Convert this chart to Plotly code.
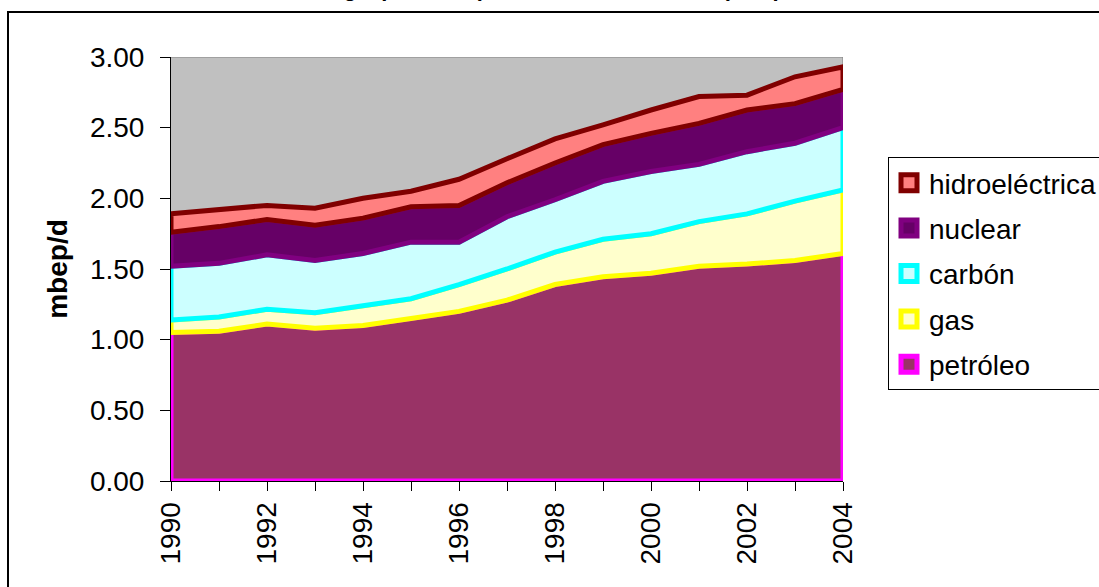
import plotly.graph_objects as go
import numpy as np

# ---------------- data ----------------
years = list(range(1990, 2005))
x_tick_labels = [str(y) if y % 2 == 0 else "" for y in years]
y_tick_values = [0.0, 0.5, 1.0, 1.5, 2.0, 2.5, 3.0]

series_names = ["petróleo", "gas", "carbón", "nuclear", "hidroeléctrica"]
petroleo = [1.05, 1.06, 1.11, 1.08, 1.10, 1.15, 1.20, 1.28, 1.39, 1.445, 1.47, 1.52, 1.535, 1.56, 1.61]
gas = [0.09, 0.10, 0.105, 0.11, 0.14, 0.14, 0.19, 0.22, 0.23, 0.265, 0.28, 0.315, 0.355, 0.42, 0.45]
carbon = [0.38, 0.38, 0.385, 0.37, 0.37, 0.40, 0.30, 0.37, 0.37, 0.41, 0.44, 0.405, 0.44, 0.41, 0.44]
nuclear = [0.24, 0.26, 0.25, 0.25, 0.25, 0.25, 0.26, 0.24, 0.26, 0.26, 0.27, 0.29, 0.295, 0.28, 0.27]
hidro = [0.13, 0.12, 0.10, 0.12, 0.14, 0.11, 0.185, 0.17, 0.17, 0.14, 0.165, 0.19, 0.105, 0.19, 0.16]

# ---------------- styles ----------------
fill_colors = ["#993366", "#FFFFCC", "#CCFFFF", "#660066", "#FF8080"]
line_colors = ["#FF00FF", "#FFFF00", "#00FFFF", "#800080", "#800000"]
FONT = "Liberation Sans, Arial, sans-serif"

fig = go.Figure()

values = [petroleo, gas, carbon, nuclear, hidro]
bottom = np.zeros(len(years))
for name, vals, fc, lc in zip(series_names, values, fill_colors, line_colors):
    top = bottom + np.array(vals)
    xs = years + years[::-1] + [years[0]]
    ys = list(np.round(top, 4)) + list(np.round(bottom, 4))[::-1] + [round(float(top[0]), 4)]
    fig.add_trace(go.Scatter(
        x=xs, y=ys, mode="lines", fill="toself", fillcolor=fc,
        line=dict(color=lc, width=5), name=name, showlegend=False,
        hoverinfo="skip",
    ))
    bottom = top

# legend entries (top to bottom as in the reference)
for name, fc, lc in list(zip(series_names, fill_colors, line_colors))[::-1]:
    fig.add_trace(go.Scatter(
        x=[None], y=[None], mode="markers", name=name, legendgroup=name,
        marker=dict(symbol="square", size=20, color=fc, line=dict(color=lc, width=5)),
    ))

# plot-area geometry in pixels
L, R, T, B = 171, 843, 57, 481
W, H = R - L, B - T

def px_x(p):
    return (p - L) / W

def px_y(p):
    return (B - p) / H

fig.update_layout(
    width=1099, height=587,
    margin=dict(l=L, r=1099 - R, t=T, b=587 - B, autoexpand=False),
    paper_bgcolor="white",
    plot_bgcolor="#C0C0C0",
    font=dict(family=FONT, size=28, color="black"),
    title=dict(
        text="<b>Consumo de energía primaria (millones de barriles/día), España, 1990-2004</b>",
        font=dict(family=FONT, size=22, color="black"),
        x=0.5, xref="container", xanchor="center",
        y=1.0, yref="container", yanchor="bottom", pad=dict(b=4),
    ),
    xaxis=dict(
        range=[1990, 2004], tickmode="array", tickvals=years, ticktext=x_tick_labels,
        tickangle=-90, ticks="outside", ticklen=9, tickwidth=1, tickcolor="black",
        showline=True, linecolor="black", linewidth=1, showgrid=False, zeroline=False,
        tickfont=dict(family=FONT, size=28), ticklabelstandoff=0,
    ),
    yaxis=dict(
        range=[0, 3], tickmode="array", tickvals=y_tick_values, tickformat=".2f",
        ticks="outside", ticklen=10, tickwidth=1, tickcolor="black",
        showline=True, linecolor="black", linewidth=1, showgrid=False, zeroline=False,
        tickfont=dict(family=FONT, size=28), ticklabelstandoff=10,
        title=dict(text="<b>mbep/d</b>", font=dict(family=FONT, size=28), standoff=14),
    ),
    legend=dict(
        x=px_x(888), y=px_y(157), xanchor="left", yanchor="top",
        bgcolor="white", bordercolor="black", borderwidth=1,
        font=dict(family=FONT, size=28), tracegroupgap=6, traceorder="grouped",
    ),
    shapes=[
        dict(type="rect", xref="paper", yref="paper",
             x0=px_x(8), x1=px_x(1110), y0=px_y(600), y1=px_y(12),
             line=dict(color="black", width=2), layer="below"),
        dict(type="path", xref="x", yref="y", path="M 1990,3 L 2004,3 L 2004,0",
             line=dict(color="#808080", width=1), layer="below"),
    ],
)

fig.write_html("out.html", config={"displayModeBar": False},
               post_script="document.body.style.margin='0';")
